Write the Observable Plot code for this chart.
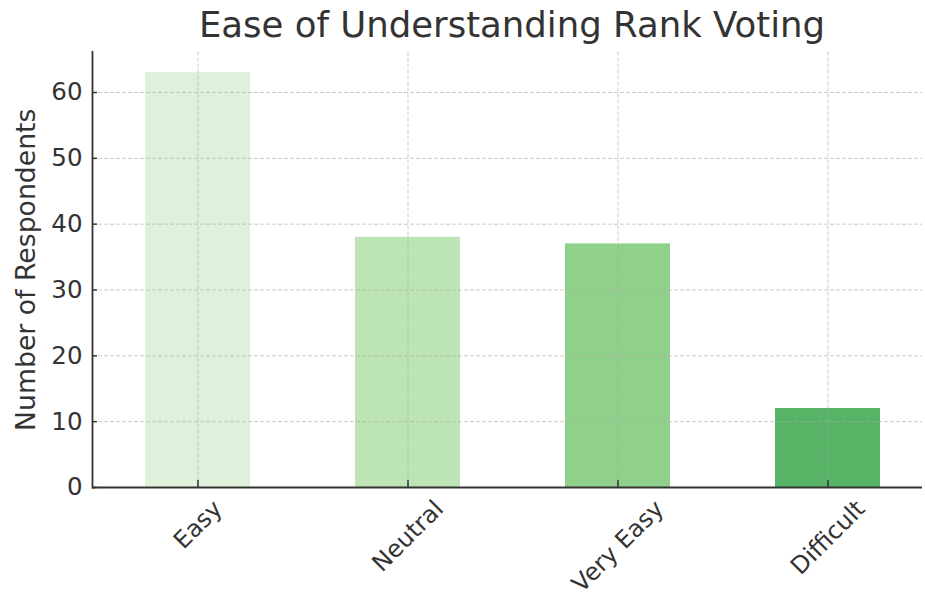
<!DOCTYPE html>
<html>
<head>
<meta charset="utf-8">
<script src="https://cdn.jsdelivr.net/npm/d3@7"></script>
<script src="https://cdn.jsdelivr.net/npm/@observablehq/plot@0.6"></script>
<style>
  html, body { margin: 0; padding: 0; background: #fff; overflow: hidden; }
  #wrap { width: 925px; height: 598px; position: relative; }
  #title { position: relative; height: 50px; font-family: "DejaVu Sans", sans-serif; }
  #title span { position: absolute; left: 92px; width: 840px; top: 7px; text-align: center;
    font-size: 35.5px; line-height: 36px; color: #333; white-space: nowrap; }
  svg { display: block; }
</style>
</head>
<body>
<div id="wrap">
  <div id="title"><span></span></div>
  <div id="chart"></div>
</div>
<script>
const titleText = "Ease of Understanding Rank Voting";
const yLabel = "Number of Respondents";
const categories = ["Easy", "Neutral", "Very Easy", "Difficult"];
const counts = [63, 38, 37, 12];
const barColors = ["#dff1da", "#bce4b5", "#8fd08a", "#57b366"];
const yTicks = [0, 10, 20, 30, 40, 50, 60];

document.querySelector("#title span").textContent = titleText;

const data = categories.map((c, i) => ({category: c, value: counts[i]}));

const tickFont = 24;
const ctx = document.createElement("canvas").getContext("2d");
ctx.font = `${tickFont}px "DejaVu Sans"`;
const s45 = Math.SQRT1_2;
const labelOffsets = categories.map(c => {
  const w = ctx.measureText(c).width;
  const h = (w + 1.1 * tickFont) * s45;
  return 8 + h / 2;
});

const gridStyle = {stroke: "#a8a8a8", strokeOpacity: 0.6, strokeDasharray: "4,2", strokeWidth: 1};

const chart = Plot.plot({
  width: 925,
  height: 548,
  marginLeft: 92,
  marginRight: 3,
  marginTop: 1.5,
  marginBottom: 111,
  style: {fontFamily: "DejaVu Sans", fontSize: "24.5px", color: "#333", background: "#fff"},
  x: {domain: categories, range: [92, 932], paddingInner: 0.5, paddingOuter: 0.25},
  y: {domain: [0, 66.15], range: [437, 1.5]},
  color: {domain: categories, range: barColors},
  marks: [
    Plot.barY(data, {x: "category", y: "value", fill: "category"}),
    Plot.ruleY(yTicks.slice(1), gridStyle),
    Plot.ruleX(categories, {x: d => d, ...gridStyle}),
    Plot.axisY(yTicks, {tickSize: -5, tickPadding: 15, strokeWidth: 1.5, stroke: "#333", label: null, fill: "#333"}),
    Plot.axisX(categories, {tickSize: -7, tickPadding: 0, strokeWidth: 1.5, stroke: "#333", tickFormat: () => "", label: null}),
    Plot.ruleY([0], {stroke: "#333", strokeWidth: 1.8}),
    Plot.frame({anchor: "left", stroke: "#333", strokeWidth: 1.8}),
    ...categories.map((c, i) => Plot.text([c], {
      x: d => d, frameAnchor: "bottom", rotate: -45, textAnchor: "middle", lineAnchor: "middle",
      dy: labelOffsets[i], fontSize: tickFont, fill: "#333"
    })),
    Plot.text([yLabel], {text: d => d, frameAnchor: "left", dx: -66, rotate: -90,
      textAnchor: "middle", lineAnchor: "middle", fontSize: 26.7, fill: "#333"})
  ]
});
document.getElementById("chart").appendChild(chart);
</script>
</body>
</html>
